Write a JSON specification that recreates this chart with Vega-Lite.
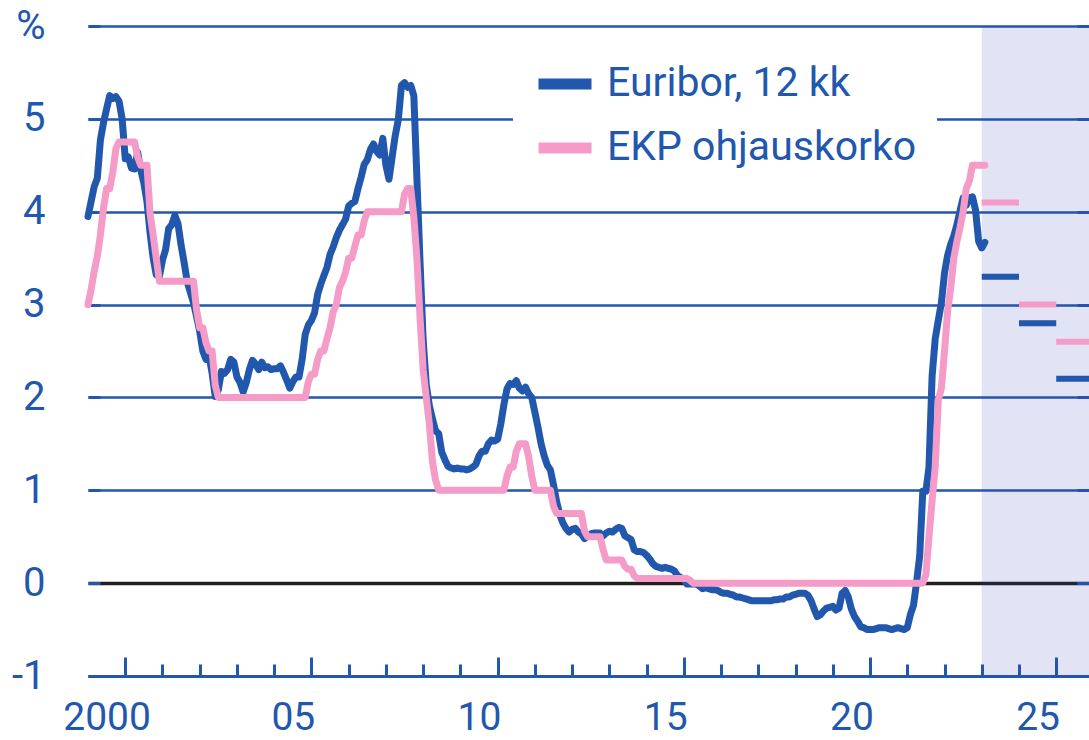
{
  "$schema": "https://vega.github.io/schema/vega-lite/v6.json",
  "autosize": {"type": "none"},
  "width": 1001,
  "height": 650,
  "padding": {"left": 88, "top": 26, "right": 0, "bottom": 64},
  "background": "white",
  "config": {"view": {"stroke": null}, "font": "Roboto"},
  "datasets": {
    "hist": [
      {"t":2000,"e":3.95,"k":3},{"t":2000.083,"e":4.11,"k":3.16},{"t":2000.167,"e":4.27,"k":3.36},{"t":2000.25,"e":4.36,"k":3.52},{"t":2000.333,"e":4.77,"k":3.75},{"t":2000.417,"e":4.96,"k":4.04},{"t":2000.5,"e":5.11,"k":4.25},{"t":2000.583,"e":5.25,"k":4.25},{"t":2000.667,"e":5.22,"k":4.43},{"t":2000.75,"e":5.24,"k":4.68},{"t":2000.833,"e":5.19,"k":4.75},{"t":2000.917,"e":5.0,"k":4.75},
      {"t":2001,"e":4.57,"k":4.75},{"t":2001.083,"e":4.59,"k":4.75},{"t":2001.167,"e":4.47,"k":4.75},{"t":2001.25,"e":4.46,"k":4.75},{"t":2001.333,"e":4.64,"k":4.59},{"t":2001.417,"e":4.45,"k":4.5},{"t":2001.5,"e":4.31,"k":4.5},{"t":2001.583,"e":4.11,"k":4.5},{"t":2001.667,"e":3.77,"k":3.98},{"t":2001.75,"e":3.5,"k":3.75},{"t":2001.833,"e":3.32,"k":3.5},{"t":2001.917,"e":3.3,"k":3.25},
      {"t":2002,"e":3.48,"k":3.25},{"t":2002.083,"e":3.59,"k":3.25},{"t":2002.167,"e":3.82,"k":3.25},{"t":2002.25,"e":3.86,"k":3.25},{"t":2002.333,"e":3.96,"k":3.25},{"t":2002.417,"e":3.87,"k":3.25},{"t":2002.5,"e":3.64,"k":3.25},{"t":2002.583,"e":3.45,"k":3.25},{"t":2002.667,"e":3.24,"k":3.25},{"t":2002.75,"e":3.13,"k":3.25},{"t":2002.833,"e":3.02,"k":3.25},{"t":2002.917,"e":2.87,"k":2.94},
      {"t":2003,"e":2.71,"k":2.75},{"t":2003.083,"e":2.5,"k":2.75},{"t":2003.167,"e":2.41,"k":2.59},{"t":2003.25,"e":2.45,"k":2.5},{"t":2003.333,"e":2.26,"k":2.5},{"t":2003.417,"e":2.01,"k":2.13},{"t":2003.5,"e":2.08,"k":2},{"t":2003.583,"e":2.28,"k":2},{"t":2003.667,"e":2.26,"k":2},{"t":2003.75,"e":2.3,"k":2},{"t":2003.833,"e":2.41,"k":2},{"t":2003.917,"e":2.38,"k":2},
      {"t":2004,"e":2.22,"k":2},{"t":2004.083,"e":2.16,"k":2},{"t":2004.167,"e":2.06,"k":2},{"t":2004.25,"e":2.16,"k":2},{"t":2004.333,"e":2.3,"k":2},{"t":2004.417,"e":2.4,"k":2},{"t":2004.5,"e":2.36,"k":2},{"t":2004.583,"e":2.3,"k":2},{"t":2004.667,"e":2.38,"k":2},{"t":2004.75,"e":2.32,"k":2},{"t":2004.833,"e":2.33,"k":2},{"t":2004.917,"e":2.3,"k":2},
      {"t":2005,"e":2.31,"k":2},{"t":2005.083,"e":2.31,"k":2},{"t":2005.167,"e":2.34,"k":2},{"t":2005.25,"e":2.27,"k":2},{"t":2005.333,"e":2.19,"k":2},{"t":2005.417,"e":2.1,"k":2},{"t":2005.5,"e":2.17,"k":2},{"t":2005.583,"e":2.22,"k":2},{"t":2005.667,"e":2.22,"k":2},{"t":2005.75,"e":2.41,"k":2},{"t":2005.833,"e":2.68,"k":2},{"t":2005.917,"e":2.78,"k":2.17},
      {"t":2006,"e":2.83,"k":2.25},{"t":2006.083,"e":2.91,"k":2.25},{"t":2006.167,"e":3.11,"k":2.41},{"t":2006.25,"e":3.22,"k":2.5},{"t":2006.333,"e":3.31,"k":2.5},{"t":2006.417,"e":3.4,"k":2.63},{"t":2006.5,"e":3.54,"k":2.75},{"t":2006.583,"e":3.62,"k":2.92},{"t":2006.667,"e":3.72,"k":3},{"t":2006.75,"e":3.8,"k":3.18},{"t":2006.833,"e":3.86,"k":3.25},{"t":2006.917,"e":3.92,"k":3.35},
      {"t":2007,"e":4.06,"k":3.5},{"t":2007.083,"e":4.09,"k":3.5},{"t":2007.167,"e":4.11,"k":3.63},{"t":2007.25,"e":4.25,"k":3.75},{"t":2007.333,"e":4.37,"k":3.75},{"t":2007.417,"e":4.51,"k":3.9},{"t":2007.5,"e":4.56,"k":4},{"t":2007.583,"e":4.67,"k":4},{"t":2007.667,"e":4.73,"k":4},{"t":2007.75,"e":4.65,"k":4},{"t":2007.833,"e":4.61,"k":4},{"t":2007.917,"e":4.79,"k":4},
      {"t":2008,"e":4.5,"k":4},{"t":2008.083,"e":4.35,"k":4},{"t":2008.167,"e":4.59,"k":4},{"t":2008.25,"e":4.82,"k":4},{"t":2008.333,"e":4.99,"k":4},{"t":2008.417,"e":5.36,"k":4},{"t":2008.5,"e":5.39,"k":4.19},{"t":2008.583,"e":5.34,"k":4.25},{"t":2008.667,"e":5.36,"k":4.25},{"t":2008.75,"e":5.25,"k":3.94},{"t":2008.833,"e":4.35,"k":3.49},{"t":2008.917,"e":3.45,"k":2.86},
      {"t":2009,"e":2.62,"k":2.3},{"t":2009.083,"e":2.14,"k":2},{"t":2009.167,"e":1.91,"k":1.71},{"t":2009.25,"e":1.77,"k":1.31},{"t":2009.333,"e":1.64,"k":1.11},{"t":2009.417,"e":1.61,"k":1},{"t":2009.5,"e":1.41,"k":1},{"t":2009.583,"e":1.33,"k":1},{"t":2009.667,"e":1.26,"k":1},{"t":2009.75,"e":1.24,"k":1},{"t":2009.833,"e":1.23,"k":1},{"t":2009.917,"e":1.24,"k":1},
      {"t":2010,"e":1.23,"k":1},{"t":2010.083,"e":1.23,"k":1},{"t":2010.167,"e":1.22,"k":1},{"t":2010.25,"e":1.23,"k":1},{"t":2010.333,"e":1.25,"k":1},{"t":2010.417,"e":1.28,"k":1},{"t":2010.5,"e":1.37,"k":1},{"t":2010.583,"e":1.42,"k":1},{"t":2010.667,"e":1.42,"k":1},{"t":2010.75,"e":1.5,"k":1},{"t":2010.833,"e":1.54,"k":1},{"t":2010.917,"e":1.53,"k":1},
      {"t":2011,"e":1.55,"k":1},{"t":2011.083,"e":1.71,"k":1},{"t":2011.167,"e":1.92,"k":1},{"t":2011.25,"e":2.09,"k":1.15},{"t":2011.333,"e":2.15,"k":1.25},{"t":2011.417,"e":2.14,"k":1.25},{"t":2011.5,"e":2.18,"k":1.42},{"t":2011.583,"e":2.1,"k":1.5},{"t":2011.667,"e":2.07,"k":1.5},{"t":2011.75,"e":2.11,"k":1.5},{"t":2011.833,"e":2.04,"k":1.36},{"t":2011.917,"e":2,"k":1.15},
      {"t":2012,"e":1.84,"k":1},{"t":2012.083,"e":1.68,"k":1},{"t":2012.167,"e":1.5,"k":1},{"t":2012.25,"e":1.37,"k":1},{"t":2012.333,"e":1.27,"k":1},{"t":2012.417,"e":1.22,"k":1},{"t":2012.5,"e":1.06,"k":0.83},{"t":2012.583,"e":0.88,"k":0.75},{"t":2012.667,"e":0.74,"k":0.75},{"t":2012.75,"e":0.65,"k":0.75},{"t":2012.833,"e":0.59,"k":0.75},{"t":2012.917,"e":0.55,"k":0.75},
      {"t":2013,"e":0.58,"k":0.75},{"t":2013.083,"e":0.59,"k":0.75},{"t":2013.167,"e":0.55,"k":0.75},{"t":2013.25,"e":0.53,"k":0.75},{"t":2013.333,"e":0.48,"k":0.56},{"t":2013.417,"e":0.51,"k":0.5},{"t":2013.5,"e":0.53,"k":0.5},{"t":2013.583,"e":0.54,"k":0.5},{"t":2013.667,"e":0.54,"k":0.5},{"t":2013.75,"e":0.54,"k":0.5},{"t":2013.833,"e":0.51,"k":0.36},{"t":2013.917,"e":0.54,"k":0.25},
      {"t":2014,"e":0.56,"k":0.25},{"t":2014.083,"e":0.55,"k":0.25},{"t":2014.167,"e":0.58,"k":0.25},{"t":2014.25,"e":0.6,"k":0.25},{"t":2014.333,"e":0.59,"k":0.25},{"t":2014.417,"e":0.51,"k":0.18},{"t":2014.5,"e":0.49,"k":0.15},{"t":2014.583,"e":0.47,"k":0.15},{"t":2014.667,"e":0.36,"k":0.08},{"t":2014.75,"e":0.34,"k":0.05},{"t":2014.833,"e":0.34,"k":0.05},{"t":2014.917,"e":0.33,"k":0.05},
      {"t":2015,"e":0.3,"k":0.05},{"t":2015.083,"e":0.26,"k":0.05},{"t":2015.167,"e":0.21,"k":0.05},{"t":2015.25,"e":0.18,"k":0.05},{"t":2015.333,"e":0.17,"k":0.05},{"t":2015.417,"e":0.16,"k":0.05},{"t":2015.5,"e":0.17,"k":0.05},{"t":2015.583,"e":0.16,"k":0.05},{"t":2015.667,"e":0.15,"k":0.05},{"t":2015.75,"e":0.13,"k":0.05},{"t":2015.833,"e":0.08,"k":0.05},{"t":2015.917,"e":0.06,"k":0.05},
      {"t":2016,"e":0.04,"k":0.05},{"t":2016.083,"e":-0.01,"k":0.05},{"t":2016.167,"e":-0.01,"k":0.03},{"t":2016.25,"e":-0.01,"k":0},{"t":2016.333,"e":-0.01,"k":0},{"t":2016.417,"e":-0.03,"k":0},{"t":2016.5,"e":-0.06,"k":0},{"t":2016.583,"e":-0.05,"k":0},{"t":2016.667,"e":-0.06,"k":0},{"t":2016.75,"e":-0.07,"k":0},{"t":2016.833,"e":-0.07,"k":0},{"t":2016.917,"e":-0.08,"k":0},
      {"t":2017,"e":-0.1,"k":0},{"t":2017.083,"e":-0.11,"k":0},{"t":2017.167,"e":-0.11,"k":0},{"t":2017.25,"e":-0.12,"k":0},{"t":2017.333,"e":-0.13,"k":0},{"t":2017.417,"e":-0.15,"k":0},{"t":2017.5,"e":-0.15,"k":0},{"t":2017.583,"e":-0.16,"k":0},{"t":2017.667,"e":-0.17,"k":0},{"t":2017.75,"e":-0.18,"k":0},{"t":2017.833,"e":-0.19,"k":0},{"t":2017.917,"e":-0.19,"k":0},
      {"t":2018,"e":-0.19,"k":0},{"t":2018.083,"e":-0.19,"k":0},{"t":2018.167,"e":-0.19,"k":0},{"t":2018.25,"e":-0.19,"k":0},{"t":2018.333,"e":-0.19,"k":0},{"t":2018.417,"e":-0.18,"k":0},{"t":2018.5,"e":-0.18,"k":0},{"t":2018.583,"e":-0.17,"k":0},{"t":2018.667,"e":-0.17,"k":0},{"t":2018.75,"e":-0.15,"k":0},{"t":2018.833,"e":-0.15,"k":0},{"t":2018.917,"e":-0.13,"k":0},
      {"t":2019,"e":-0.12,"k":0},{"t":2019.083,"e":-0.11,"k":0},{"t":2019.167,"e":-0.11,"k":0},{"t":2019.25,"e":-0.11,"k":0},{"t":2019.333,"e":-0.13,"k":0},{"t":2019.417,"e":-0.19,"k":0},{"t":2019.5,"e":-0.28,"k":0},{"t":2019.583,"e":-0.36,"k":0},{"t":2019.667,"e":-0.34,"k":0},{"t":2019.75,"e":-0.3,"k":0},{"t":2019.833,"e":-0.27,"k":0},{"t":2019.917,"e":-0.26,"k":0},
      {"t":2020,"e":-0.25,"k":0},{"t":2020.083,"e":-0.29,"k":0},{"t":2020.167,"e":-0.27,"k":0},{"t":2020.25,"e":-0.11,"k":0},{"t":2020.333,"e":-0.08,"k":0},{"t":2020.417,"e":-0.15,"k":0},{"t":2020.5,"e":-0.28,"k":0},{"t":2020.583,"e":-0.36,"k":0},{"t":2020.667,"e":-0.41,"k":0},{"t":2020.75,"e":-0.47,"k":0},{"t":2020.833,"e":-0.48,"k":0},{"t":2020.917,"e":-0.5,"k":0},
      {"t":2021,"e":-0.5,"k":0},{"t":2021.083,"e":-0.5,"k":0},{"t":2021.167,"e":-0.49,"k":0},{"t":2021.25,"e":-0.48,"k":0},{"t":2021.333,"e":-0.48,"k":0},{"t":2021.417,"e":-0.48,"k":0},{"t":2021.5,"e":-0.49,"k":0},{"t":2021.583,"e":-0.5,"k":0},{"t":2021.667,"e":-0.49,"k":0},{"t":2021.75,"e":-0.48,"k":0},{"t":2021.833,"e":-0.49,"k":0},{"t":2021.917,"e":-0.5,"k":0},
      {"t":2022,"e":-0.48,"k":0},{"t":2022.083,"e":-0.34,"k":0},{"t":2022.167,"e":-0.24,"k":0},{"t":2022.25,"e":0.01,"k":0},{"t":2022.333,"e":0.29,"k":0},{"t":2022.417,"e":0.99,"k":0},{"t":2022.5,"e":0.99,"k":0.09},{"t":2022.583,"e":1.25,"k":0.5},{"t":2022.667,"e":2.23,"k":0.89},{"t":2022.75,"e":2.63,"k":1.25},{"t":2022.833,"e":2.83,"k":1.97},{"t":2022.917,"e":3.02,"k":2.1},
      {"t":2023,"e":3.34,"k":2.5},{"t":2023.083,"e":3.53,"k":2.93},{"t":2023.167,"e":3.65,"k":3.18},{"t":2023.25,"e":3.74,"k":3.5},{"t":2023.333,"e":3.86,"k":3.68},{"t":2023.417,"e":4.01,"k":3.83},{"t":2023.5,"e":4.15,"k":4},{"t":2023.583,"e":4.07,"k":4.25},{"t":2023.667,"e":4.15,"k":4.33},{"t":2023.75,"e":4.16,"k":4.5},{"t":2023.833,"e":4.02,"k":4.5},{"t":2023.917,"e":3.68,"k":4.5},
      {"t":2024,"e":3.61,"k":4.5},{"t":2024.083,"e":3.67,"k":4.5}
    ],
    "fc": [
      {"a":2024,"b":2025,"s":"EKP ohjauskorko","v":4.1},
      {"a":2024,"b":2025,"s":"Euribor, 12 kk","v":3.3},
      {"a":2025,"b":2026,"s":"EKP ohjauskorko","v":3.0},
      {"a":2025,"b":2026,"s":"Euribor, 12 kk","v":2.8},
      {"a":2026,"b":2027,"s":"EKP ohjauskorko","v":2.6},
      {"a":2026,"b":2027,"s":"Euribor, 12 kk","v":2.2}
    ]
  },
  "resolve": {"axis": {"x": "independent", "y": "independent"}},
  "layer": [
    {
      "data": {"values": [{"a": 2024, "b": 2027}]},
      "mark": {"type": "rect", "fill": "#3c46b4", "opacity": 0.15, "clip": true},
      "encoding": {
        "x": {"field": "a", "type": "quantitative", "scale": {"domain": [2000, 2026.88], "nice": false, "zero": false},
          "axis": {"orient": "bottom", "values": [2001,2002,2003,2004,2005,2006,2007,2008,2009,2010,2011,2012,2013,2014,2015,2016,2017,2018,2019,2020,2021,2022,2023,2024,2025,2026],
            "grid": false, "domain": true, "domainColor": "#2157ad", "domainWidth": 3, "ticks": true, "tickSize": -12, "tickWidth": 3, "tickColor": "#2157ad", "labels": false, "title": null}},
        "x2": {"field": "b"}
      }
    },
    {
      "data": {"name": "hist"},
      "mark": {"type": "line", "strokeWidth": 7, "strokeJoin": "round", "strokeCap": "round"},
      "encoding": {
        "x": {"field": "t", "type": "quantitative", "scale": {"domain": [2000, 2026.88], "nice": false, "zero": false},
          "axis": {"orient": "bottom", "values": [2001, 2006, 2011, 2016, 2021, 2026], "grid": false, "domain": false, "ticks": true, "tickSize": -19, "tickWidth": 3, "tickColor": "#2157ad", "labels": false, "title": null}},
        "y": {"field": "e", "type": "quantitative", "scale": {"domain": [-1, 6], "nice": false, "zero": false},
          "axis": {"orient": "left", "values": [-1, 0, 1, 2, 3, 4, 5, 6], "title": null, "domain": false,
            "grid": true,
            "gridColor": {"condition": {"test": "datum.value === 0", "value": "#231f20"}, "value": "#2157ad"},
            "gridWidth": {"condition": {"test": "datum.value === 0", "value": 3.5}, "value": 2.5},
            "ticks": true, "tickSize": -12, "tickWidth": 3, "tickColor": "#2157ad",
            "labelPadding": 55, "labelFontSize": 40, "labelColor": "#2157ad", "labelFont": "Roboto",
            "labelExpr": "datum.value == 6 ? '%' : '' + datum.value"}},
        "color": {"datum": "Euribor, 12 kk", "type": "nominal", "title": null,
          "scale": {"domain": ["Euribor, 12 kk", "EKP ohjauskorko"], "range": ["#2157ad", "#f59bc8"]},
          "legend": {"orient": "none", "legendX": 425, "legendY": 6, "title": null, "fillColor": "white", "padding": 20,
            "symbolType": "stroke", "symbolStrokeWidth": 11, "symbolSize": 2809, "labelFontSize": 41, "labelColor": "#2157ad",
            "labelFont": "Roboto", "labelOffset": 10, "rowPadding": 10, "labelLimit": 500}}
      }
    },
    {
      "data": {"name": "hist"},
      "mark": {"type": "line", "strokeWidth": 7, "strokeJoin": "round", "strokeCap": "round"},
      "encoding": {
        "x": {"field": "t", "type": "quantitative",
          "axis": {"orient": "bottom", "values": [2000.5, 2005.5, 2010.5, 2015.5, 2020.5, 2025.5], "grid": false, "domain": false, "ticks": false,
            "labelPadding": 22, "labelFontSize": 39, "labelColor": "#2157ad", "labelFont": "Roboto", "labelFlush": false, "labelOverlap": false,
            "labelExpr": "datum.value < 2001 ? '2000' : substring('' + floor(datum.value), 2, 4)", "title": null}},
        "y": {"field": "k", "type": "quantitative",
          "axis": {"orient": "right", "values": [-1, 0, 1, 2, 3, 4, 5, 6], "title": null, "domain": false, "grid": false, "labels": false,
            "ticks": true, "tickSize": -12, "tickWidth": 3, "tickColor": "#2157ad"}},
        "color": {"datum": "EKP ohjauskorko", "type": "nominal", "title": null}
      }
    },
    {
      "data": {"name": "fc"},
      "mark": {"type": "rule", "strokeWidth": 6, "strokeCap": "butt", "clip": true},
      "encoding": {
        "x": {"field": "a", "type": "quantitative", "axis": null},
        "x2": {"field": "b"},
        "y": {"field": "v", "type": "quantitative", "axis": null},
        "color": {"field": "s", "type": "nominal", "title": null}
      }
    }
  ]
}
